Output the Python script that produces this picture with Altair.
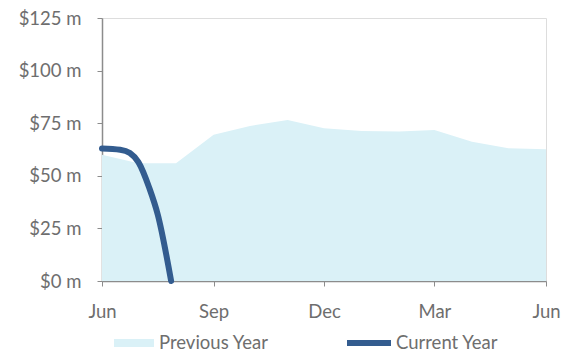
import altair as alt
import pandas as pd

# Previous year (monthly)
prev_dates = ["2023-06-01T00:00", "2023-07-01T00:00", "2023-08-01T00:00", "2023-09-01T00:00",
              "2023-10-01T00:00", "2023-11-01T00:00", "2023-12-01T00:00", "2024-01-01T00:00",
              "2024-02-01T00:00", "2024-03-01T00:00", "2024-04-01T00:00", "2024-05-01T00:00",
              "2024-06-01T00:00"]
prev_values = [60.0, 56.0, 56.0, 69.5, 73.7, 76.5, 72.6, 71.3, 71.0, 71.8, 66.2, 63.1, 62.6]

# Current year
cur_dates = ["2023-06-01T00:00", "2023-06-16T00:00", "2023-06-24T00:00", "2023-07-01T00:00",
             "2023-07-10T00:00", "2023-07-17T00:00", "2023-07-28T00:00"]
cur_values = [63.0, 62.4, 60.8, 56.5, 44.2, 31.5, 0.0]

prev_df = pd.DataFrame({"date": prev_dates, "value": prev_values, "prev": "Previous Year"})
cur_df = pd.DataFrame({"date": cur_dates, "value": cur_values, "cur": "Current Year"})

FONT = "Lato"
FS = 18.5
TXT = "#6e6e6e"
AXC = "#8c8c8c"

x_scale = alt.Scale(domain=[alt.DateTime(year=2023, month=6, date=1),
                            alt.DateTime(year=2024, month=6, date=1)], nice=False)
y_scale = alt.Scale(domain=[0, 125], nice=False)

x_enc = alt.X(
    "date:T", scale=x_scale,
    axis=alt.Axis(
        values=[alt.DateTime(year=2023, month=6, date=1), alt.DateTime(year=2023, month=9, date=1),
                alt.DateTime(year=2023, month=12, date=1), alt.DateTime(year=2024, month=3, date=1),
                alt.DateTime(year=2024, month=6, date=1)],
        format="%b", title=None, grid=False, tickSize=5, labelPadding=16, labelFlush=False,
        domainColor=AXC, domainWidth=1.5, tickColor=AXC, labelColor=TXT,
        labelFont=FONT, labelFontSize=FS,
    ),
)
y_enc = alt.Y(
    "value:Q", scale=y_scale,
    axis=alt.Axis(
        values=[0, 25, 50, 75, 100, 125], labelExpr="'$' + datum.value + ' m'",
        title=None, grid=False, tickSize=5, labelPadding=16, labelFlush=False,
        domainColor=AXC, domainWidth=1.5, tickColor=AXC, labelColor=TXT,
        labelFont=FONT, labelFontSize=FS,
    ),
)

area = alt.Chart(prev_df).mark_area(opacity=1).encode(
    x=x_enc, y=y_enc,
    fill=alt.Fill("prev:N", scale=alt.Scale(domain=["Previous Year"], range=["#daf1f7"]),
                  legend=alt.Legend(title=None, orient="none", legendX=12, legendY=305,
                                    symbolType="M-1,-0.2L1,-0.2L1,0.2L-1,0.2Z", symbolSize=1600,
                                    symbolStrokeWidth=0, labelOffset=5, padding=0,
                                    labelColor=TXT, labelFont=FONT, labelFontSize=FS)),
)

line = alt.Chart(cur_df).mark_line(strokeWidth=6, interpolate="monotone", strokeCap="round").encode(
    x=alt.X("date:T", scale=x_scale), y=alt.Y("value:Q", scale=y_scale),
    stroke=alt.Stroke("cur:N", scale=alt.Scale(domain=["Current Year"], range=["#335c8f"]),
                      legend=alt.Legend(title=None, orient="none", legendX=242, legendY=300,
                                        symbolType="stroke", symbolSize=1936, symbolStrokeWidth=6,
                                        labelOffset=2, padding=0,
                                        labelColor=TXT, labelFont=FONT, labelFontSize=FS)),
)

chart = alt.layer(area, line).resolve_scale(fill="independent", stroke="independent").properties(
    width=444, height=263,
    padding={"left": 102, "top": 18, "right": 33, "bottom": 73},
    autosize=alt.AutoSizeParams(type="none"),
).configure_view(stroke=AXC, strokeWidth=1.5).configure(background="white")

chart.save("out.html", embed_options={"renderer": "svg", "actions": False})
